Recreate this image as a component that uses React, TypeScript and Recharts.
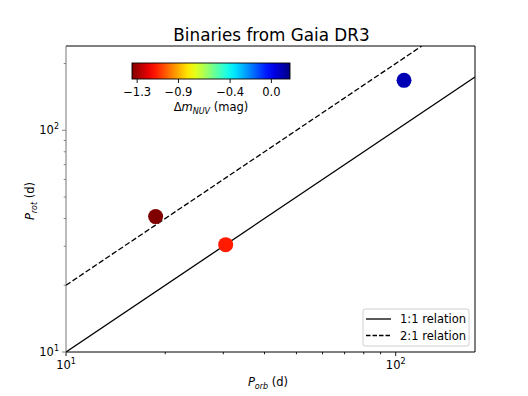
import React from "react"
import { ScatterChart, Scatter, XAxis, YAxis, Cell, ReferenceLine } from "recharts"

// measured binaries
const pOrb = [18.7, 30.5, 106]
const pRot = [40.8, 30.5, 168]
const dmNuv = [-1.35, -1.12, 0.1]

// relation lines (P_rot = k * P_orb)
const oneToOneOrb = [10, 174]
const twoToOneOrb = [10, 120]

const xTicks = [10, 20, 30, 40, 50, 60, 70, 80, 90, 100]
const yTicks = [10, 20, 30, 40, 50, 60, 70, 80, 90, 100, 200]
const cbarTicks = [-1.3, -0.9, -0.4, 0.0]
const cbarRange = [-1.35, 0.18]
const legendLabels = ["1:1 relation", "2:1 relation"]

const X_DOMAIN = [10, 174]
const Y_DOMAIN = [10, 240]
const FONT = "DejaVu Sans, sans-serif"

const clip = (v: number) => Math.max(0, Math.min(1, v))
// matplotlib jet, reversed
const jetR = (t: number) => {
    const u = 1 - t
    const r = clip(1.5 - Math.abs(4 * u - 3))
    const g = clip(1.5 - Math.abs(4 * u - 2))
    const b = clip(1.5 - Math.abs(4 * u - 1))
    const h = (v: number) => Math.round(v * 255).toString(16).padStart(2, "0")
    return `#${h(r)}${h(g)}${h(b)}`
}
const norm = (v: number) => (v - cbarRange[0]) / (cbarRange[1] - cbarRange[0])

const points = pOrb.map((x, i) => ({ x, y: pRot[i], c: jetR(norm(dmNuv[i])) }))
const line11 = oneToOneOrb.map((x) => ({ x, y: x }))
const line21 = twoToOneOrb.map((x) => ({ x, y: 2 * x }))

const isMajor = (v: number) => Math.abs(Math.log10(v) - Math.round(Math.log10(v))) < 1e-9

const XTick = (props: any) => {
    const { x, y, payload } = props
    const major = isMajor(payload.value)
    return (
        <g>
            <line x1={x} y1={y} x2={x} y2={y + (major ? 4 : 2.3)} stroke="#000" strokeWidth={0.9} />
            {major && (
                <text x={x} y={y + 17} textAnchor="middle" fontSize={11.5} fontFamily={FONT} fill="#000">
                    10<tspan dy={-5} fontSize={8}>{Math.round(Math.log10(payload.value))}</tspan>
                </text>
            )}
        </g>
    )
}

const YTick = (props: any) => {
    const { x, y, payload } = props
    const major = isMajor(payload.value)
    return (
        <g>
            <line x1={x} y1={y} x2={x - (major ? 4 : 2.3)} y2={y} stroke="#777" strokeWidth={0.9} />
            {major && (
                <text x={x - 7} y={y + 4} textAnchor="end" fontSize={11.5} fontFamily={FONT} fill="#000">
                    10<tspan dy={-5} fontSize={8}>{Math.round(Math.log10(payload.value))}</tspan>
                </text>
            )}
        </g>
    )
}

const Dot = (props: any) => <circle cx={props.cx} cy={props.cy} r={7.5} fill={props.fill} />
const NoDot = () => <g />

const CB = { x: 132, y: 63, w: 158, h: 16 }
const LG = { x: 363, y: 309, w: 106, h: 37 }

export default function App() {
    const stops = Array.from({ length: 21 }, (_, i) => i / 20)
    return (
        <div style={{ position: "absolute", left: 0, top: 0, width: 528, height: 396, background: "#fff" }}>
            <ScatterChart width={528} height={396} margin={{ top: 46, right: 53, left: 26, bottom: 14 }}>
                <XAxis
                    dataKey="x"
                    type="number"
                    scale="log"
                    domain={X_DOMAIN}
                    allowDataOverflow
                    ticks={xTicks}
                    interval={0}
                    tick={<XTick />}
                    tickLine={false}
                    tickSize={0}
                    tickMargin={0}
                    height={30}
                    axisLine={{ stroke: "#000", strokeWidth: 1 }}
                />
                <YAxis
                    dataKey="y"
                    type="number"
                    scale="log"
                    domain={Y_DOMAIN}
                    allowDataOverflow
                    ticks={yTicks}
                    interval={0}
                    tick={<YTick />}
                    tickLine={false}
                    tickSize={0}
                    tickMargin={0}
                    width={40}
                    axisLine={{ stroke: "#777", strokeWidth: 1 }}
                />
                <ReferenceLine y={Y_DOMAIN[1]} stroke="#000" strokeWidth={1} />
                <ReferenceLine x={X_DOMAIN[1]} stroke="#000" strokeWidth={1} />
                <Scatter
                    data={line11}
                    line={{ stroke: "#000", strokeWidth: 1.3 }}
                    shape={<NoDot />}
                    isAnimationActive={false}
                />
                <Scatter
                    data={line21}
                    line={{ stroke: "#000", strokeWidth: 1.3, strokeDasharray: "5.5 2.4" }}
                    shape={<NoDot />}
                    isAnimationActive={false}
                />
                <Scatter data={points} shape={<Dot />} isAnimationActive={false}>
                    {points.map((p, i) => (
                        <Cell key={`pt-${i}`} fill={p.c} />
                    ))}
                </Scatter>
            </ScatterChart>
            <svg
                width={528}
                height={396}
                style={{ position: "absolute", left: 0, top: 0, pointerEvents: "none" }}
                fontFamily={FONT}
            >
                <defs>
                    <linearGradient id="jetr" x1="0" x2="1" y1="0" y2="0">
                        {stops.map((s) => (
                            <stop key={s} offset={s} stopColor={jetR(s)} />
                        ))}
                    </linearGradient>
                </defs>
                <text x={271.5} y={41} textAnchor="middle" fontSize={16.8}>
                    Binaries from Gaia DR3
                </text>
                <rect x={CB.x} y={CB.y} width={CB.w} height={CB.h} fill="url(#jetr)" stroke="#000" strokeWidth={0.9} />
                {cbarTicks.map((t) => {
                    const px = CB.x + norm(t) * CB.w
                    return (
                        <g key={t}>
                            <line x1={px} y1={CB.y + CB.h} x2={px} y2={CB.y + CB.h + 4} stroke="#000" strokeWidth={0.9} />
                            <text x={px} y={96} textAnchor="middle" fontSize={11.5}>
                                {t === 0 ? "0.0" : "\u2212" + Math.abs(t).toFixed(1)}
                            </text>
                        </g>
                    )
                })}
                <text x={211} y={111} textAnchor="middle" fontSize={11.5}>
                    Δ<tspan fontStyle="italic">m</tspan>
                    <tspan fontStyle="italic" fontSize={8} dy={3}>NUV</tspan>
                    <tspan dy={-3}> (mag)</tspan>
                </text>
                <text x={268} y={386} textAnchor="middle" fontSize={11.5}>
                    <tspan fontStyle="italic">P</tspan>
                    <tspan fontStyle="italic" fontSize={8} dy={3}>orb</tspan>
                    <tspan dy={-3}> (d)</tspan>
                </text>
                <text x={34} y={201} textAnchor="middle" fontSize={11.5} transform="rotate(-90 34 201)">
                    <tspan fontStyle="italic">P</tspan>
                    <tspan fontStyle="italic" fontSize={8} dy={3}>rot</tspan>
                    <tspan dy={-3}> (d)</tspan>
                </text>
                <rect x={LG.x} y={LG.y} width={LG.w} height={LG.h} rx={2} fill="#fff" fillOpacity={0.85} stroke="#d0d0d0" strokeWidth={1} />
                {legendLabels.map((lbl, i) => {
                    const ly = LG.y + 10 + i * 16.5
                    return (
                        <g key={lbl}>
                            <line
                                x1={LG.x + 3}
                                y1={ly}
                                x2={LG.x + 28}
                                y2={ly}
                                stroke="#000"
                                strokeWidth={1.3}
                                strokeDasharray={i === 1 ? "4.5 2" : undefined}
                            />
                            <text x={LG.x + 37} y={ly + 4} fontSize={11.5}>
                                {lbl}
                            </text>
                        </g>
                    )
                })}
            </svg>
        </div>
    )
}
